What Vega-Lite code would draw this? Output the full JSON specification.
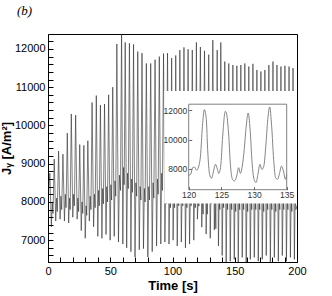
{
  "$schema": "https://vega.github.io/schema/vega-lite/v6.json",
  "width": 249,
  "height": 228,
  "autosize": {"type": "none"},
  "padding": {"left": 48, "top": 34, "right": 35, "bottom": 34},
  "background": "white",
  "config": {"view": {"stroke": "black", "strokeWidth": 1}, "font": "Liberation Sans"},
  "title": {"text": "(b)", "anchor": "start", "frame": "group", "font": "Liberation Serif", "fontStyle": "italic", "fontWeight": "normal", "fontSize": 13, "color": "black", "dx": -31, "offset": 16},
  "datasets": {
    "main": [
      {"t":0,"v":7900},{"t":0.7,"v":8350},{"t":1.5,"v":8750},{"t":2.7,"v":7350},{"t":3.4,"v":8000},{"t":4.0,"v":7700},
      {"t":5.0,"v":9120},{"t":6.2,"v":7500},{"t":6.9,"v":8100},{"t":7.5,"v":7750},
      {"t":8.5,"v":9330},{"t":9.7,"v":7550},{"t":10.4,"v":8150},{"t":11.0,"v":7800},
      {"t":12.0,"v":9250},{"t":13.2,"v":7500},{"t":13.9,"v":8200},{"t":14.5,"v":7850},
      {"t":15.5,"v":9800},{"t":16.6,"v":7450},{"t":17.3,"v":8100},{"t":17.8,"v":7800},
      {"t":18.7,"v":10300},{"t":19.9,"v":7600},{"t":20.6,"v":8200},{"t":21.2,"v":7900},
      {"t":22.2,"v":10270},{"t":23.4,"v":7550},{"t":24.0,"v":8100},{"t":24.6,"v":7750},
      {"t":25.5,"v":9500},{"t":26.7,"v":7250},{"t":27.3,"v":8000},{"t":27.9,"v":7700},
      {"t":28.8,"v":9480},{"t":29.9,"v":7050},{"t":30.6,"v":7900},{"t":31.1,"v":7650},
      {"t":32.0,"v":9600},{"t":33.2,"v":7500},{"t":33.9,"v":8150},{"t":34.5,"v":7800},
      {"t":35.4,"v":10600},{"t":36.6,"v":7350},{"t":37.3,"v":8200},{"t":37.9,"v":7850},
      {"t":38.8,"v":10780},{"t":40.0,"v":7100},{"t":40.6,"v":8300},{"t":41.2,"v":7900},
      {"t":42.1,"v":10530},{"t":43.3,"v":7050},{"t":43.9,"v":8350},{"t":44.5,"v":7950},
      {"t":45.4,"v":10560},{"t":46.6,"v":7150},{"t":47.2,"v":8400},{"t":47.8,"v":8000},
      {"t":48.7,"v":10800},{"t":49.9,"v":7000},{"t":50.5,"v":8450},{"t":51.1,"v":8050},
      {"t":52.0,"v":11000},{"t":53.2,"v":7100},{"t":53.8,"v":8550},{"t":54.4,"v":8150},
      {"t":55.3,"v":12130},{"t":56.6,"v":6950},{"t":57.4,"v":8700},{"t":58.2,"v":8300},
      {"t":59.1,"v":12500},{"t":60.1,"v":6900},{"t":60.7,"v":8900},{"t":61.2,"v":8450},
      {"t":62.0,"v":12170},{"t":63.2,"v":6800},{"t":63.9,"v":8750},{"t":64.5,"v":8350},
      {"t":65.4,"v":12150},{"t":66.6,"v":6700},{"t":67.2,"v":8600},{"t":67.8,"v":8250},
      {"t":68.7,"v":12120},{"t":69.9,"v":6560},{"t":70.6,"v":8500},{"t":71.2,"v":8150},
      {"t":72.1,"v":11930},{"t":73.3,"v":6750},{"t":74.0,"v":8400},{"t":74.6,"v":8050},
      {"t":75.5,"v":11890},{"t":76.7,"v":6780},{"t":77.4,"v":8350},{"t":78.0,"v":8000},
      {"t":79.0,"v":11620},{"t":80.2,"v":6560},{"t":80.9,"v":8400},{"t":81.5,"v":8050},
      {"t":82.5,"v":11620},{"t":83.7,"v":6700},{"t":84.4,"v":8500},{"t":85.0,"v":8100},
      {"t":86.0,"v":11720},{"t":87.2,"v":6850},{"t":87.9,"v":8600},{"t":88.5,"v":8200},
      {"t":89.4,"v":11800},{"t":90.6,"v":6900},{"t":91.3,"v":8750},{"t":91.9,"v":8300},
      {"t":92.8,"v":11880},{"t":93.9,"v":6950},{"t":94.5,"v":8300},{"t":95.1,"v":7950},
      {"t":96.0,"v":11890},{"t":97.2,"v":6900},{"t":97.8,"v":8200},{"t":98.4,"v":7850},
      {"t":99.3,"v":11760},{"t":100.5,"v":7000},{"t":101.1,"v":8200},{"t":101.7,"v":7850},
      {"t":102.6,"v":11830},{"t":103.8,"v":6850},{"t":104.4,"v":8250},{"t":105.0,"v":7900},
      {"t":105.9,"v":11970},{"t":107.1,"v":6950},{"t":107.7,"v":8250},{"t":108.3,"v":7900},
      {"t":109.2,"v":12040},{"t":110.4,"v":6800},{"t":111.0,"v":8200},{"t":111.6,"v":7850},
      {"t":112.5,"v":11990},{"t":113.7,"v":6900},{"t":114.4,"v":8250},{"t":115.0,"v":7900},
      {"t":115.9,"v":11970},{"t":117.1,"v":7000},{"t":117.7,"v":8200},{"t":118.3,"v":7850},
      {"t":119.2,"v":12170},{"t":120.0,"v":7550},{"t":120.7,"v":8100},{"t":121.2,"v":7890},
      {"t":122.4,"v":12050},{"t":123.5,"v":7340},{"t":124.1,"v":8300},{"t":124.6,"v":7680},
      {"t":125.7,"v":11950},{"t":127.0,"v":7160},{"t":127.65,"v":8070},{"t":127.9,"v":7680},
      {"t":129.1,"v":11850},{"t":130.3,"v":7050},{"t":130.9,"v":8300},{"t":131.2,"v":7950},
      {"t":132.4,"v":12230},{"t":133.6,"v":7270},{"t":134.2,"v":8180},{"t":134.8,"v":7300},
      {"t":135.9,"v":11970},{"t":136.9,"v":6850},{"t":137.5,"v":8150},{"t":138.0,"v":7800},
      {"t":138.8,"v":12170},{"t":139.9,"v":6600},{"t":140.5,"v":8200},{"t":141.1,"v":7850},
      {"t":142.0,"v":11670},{"t":143.1,"v":6400},{"t":143.7,"v":8150},{"t":144.3,"v":7800},
      {"t":145.2,"v":11620},{"t":146.4,"v":6450},{"t":147.0,"v":8150},{"t":147.6,"v":7800},
      {"t":148.5,"v":11580},{"t":149.6,"v":6500},{"t":150.2,"v":8100},{"t":150.8,"v":7750},
      {"t":151.7,"v":11560},{"t":152.8,"v":6400},{"t":153.4,"v":8150},{"t":154.0,"v":7800},
      {"t":154.9,"v":11580},{"t":156.0,"v":6550},{"t":156.6,"v":8150},{"t":157.2,"v":7800},
      {"t":158.1,"v":11620},{"t":159.2,"v":6400},{"t":159.8,"v":8100},{"t":160.4,"v":7750},
      {"t":161.3,"v":11540},{"t":162.5,"v":6500},{"t":163.1,"v":8150},{"t":163.7,"v":7800},
      {"t":164.6,"v":11610},{"t":165.7,"v":6550},{"t":166.3,"v":8100},{"t":166.9,"v":7800},
      {"t":167.8,"v":11450},{"t":168.9,"v":6450},{"t":169.5,"v":8150},{"t":170.1,"v":7800},
      {"t":171.0,"v":11410},{"t":172.1,"v":6500},{"t":172.7,"v":8100},{"t":173.3,"v":7750},
      {"t":174.2,"v":11450},{"t":175.3,"v":6600},{"t":175.9,"v":8150},{"t":176.5,"v":7800},
      {"t":177.4,"v":11580},{"t":178.6,"v":6400},{"t":179.2,"v":8150},{"t":179.8,"v":7800},
      {"t":180.7,"v":11670},{"t":181.8,"v":6550},{"t":182.4,"v":8100},{"t":183.0,"v":7750},
      {"t":183.9,"v":11580},{"t":185.0,"v":6450},{"t":185.6,"v":8150},{"t":186.2,"v":7800},
      {"t":187.1,"v":11540},{"t":188.2,"v":6600},{"t":188.8,"v":8100},{"t":189.4,"v":7800},
      {"t":190.3,"v":11560},{"t":191.5,"v":6450},{"t":192.1,"v":8150},{"t":192.7,"v":7800},
      {"t":193.6,"v":11540},{"t":194.7,"v":6550},{"t":195.3,"v":8100},{"t":195.9,"v":7750},
      {"t":196.8,"v":11500},{"t":197.9,"v":6500},{"t":198.5,"v":8150},{"t":199.1,"v":7800},{"t":200,"v":7900}
    ],
    "inset": [
      {"t":120,"v":7545},{"t":120.3,"v":7610},{"t":120.6,"v":8070},{"t":120.9,"v":8110},{"t":121.2,"v":7890},{"t":121.4,"v":8000},{"t":121.8,"v":8860},{"t":122.1,"v":10900},{"t":122.4,"v":12050},{"t":122.7,"v":11360},{"t":122.9,"v":9320},{"t":123.2,"v":7610},{"t":123.5,"v":7340},{"t":123.8,"v":7840},{"t":124.1,"v":8300},{"t":124.4,"v":7950},{"t":124.6,"v":7680},{"t":124.9,"v":8180},{"t":125.2,"v":10230},{"t":125.6,"v":11930},{"t":125.77,"v":11820},{"t":126.1,"v":10450},{"t":126.4,"v":8180},{"t":126.7,"v":7270},{"t":127.0,"v":7160},{"t":127.35,"v":7500},{"t":127.65,"v":8070},{"t":127.9,"v":7680},{"t":128.2,"v":8180},{"t":128.5,"v":9320},{"t":128.8,"v":10900},{"t":129.1,"v":11820},{"t":129.4,"v":10680},{"t":129.7,"v":8410},{"t":130.0,"v":7270},{"t":130.3,"v":7050},{"t":130.6,"v":7610},{"t":130.9,"v":8300},{"t":131.2,"v":7950},{"t":131.5,"v":8180},{"t":131.8,"v":9550},{"t":132.1,"v":11360},{"t":132.4,"v":12230},{"t":132.7,"v":10900},{"t":133.0,"v":8640},{"t":133.3,"v":7390},{"t":133.6,"v":7270},{"t":133.9,"v":7680},{"t":134.2,"v":8180},{"t":134.5,"v":7840},{"t":134.8,"v":7270},{"t":135.0,"v":7610}
    ],
    "cover": [{"x1": 93.4, "x2": 199.5, "y1": 7960, "y2": 10900}],
    "frame": [{"x1": 120, "x2": 135, "y1": 6560, "y2": 12420}]
  },
  "layer": [
    {
      "data": {"name": "main"},
      "mark": {"type": "line", "clip": true, "stroke": "#2a2a2a", "strokeWidth": 0.6},
      "encoding": {
        "x": {"field": "t", "type": "quantitative", "scale": {"domain": [0, 200], "nice": false},
          "axis": {"orient": "bottom", "title": "Time [s]", "values": [0,10,20,30,40,50,60,70,80,90,100,110,120,130,140,150,160,170,180,190,200],
            "labelExpr": "datum.value % 50 === 0 ? datum.label : ''", "labelFlush": false, "labelOverlap": false, "grid": false, "zindex": 1,
            "tickSize": -5, "labelPadding": 8, "domainColor": "black", "tickColor": "black", "labelColor": "black",
            "labelFont": "Liberation Sans", "labelFontSize": 11, "titleFont": "Liberation Sans", "titleFontSize": 13, "titleFontWeight": "bold", "titleColor": "black", "titlePadding": 3,
            "encode": {"ticks": {"update": {"y2": {"signal": "datum.value % 50 === 0 ? -5 : -2.5"}}}}}},
        "y": {"field": "v", "type": "quantitative", "scale": {"domain": [6430, 12390], "nice": false, "zero": false},
          "axis": {"orient": "left", "title": "Jᵧ [A/m²]", "format": "d", "values": [6600,6800,7000,7200,7400,7600,7800,8000,8200,8400,8600,8800,9000,9200,9400,9600,9800,10000,10200,10400,10600,10800,11000,11200,11400,11600,11800,12000,12200],
            "labelExpr": "datum.value % 1000 === 0 ? datum.label : ''", "labelFlush": false, "labelOverlap": false, "grid": false, "zindex": 1,
            "tickSize": -5, "labelPadding": 8, "domainColor": "black", "tickColor": "black", "labelColor": "black",
            "labelFont": "Liberation Sans", "labelFontSize": 11, "titleFont": "Liberation Sans", "titleFontSize": 13, "titleFontWeight": "bold", "titleColor": "black", "titlePadding": 1,
            "encode": {"ticks": {"update": {"x2": {"signal": "datum.value % 1000 === 0 ? 5 : 2.5"}}}}}}
      }
    },
    {
      "data": {"name": "cover"},
      "mark": {"type": "rect", "fill": "white", "stroke": null},
      "encoding": {
        "x": {"field": "x1", "type": "quantitative", "scale": {"domain": [0, 200], "nice": false}, "axis": null},
        "x2": {"field": "x2"},
        "y": {"field": "y1", "type": "quantitative", "scale": {"domain": [6430, 12390], "nice": false, "zero": false}, "axis": null},
        "y2": {"field": "y2"}
      }
    },
    {
      "data": {"name": "frame"},
      "mark": {"type": "rect", "fill": "white", "stroke": "#808080", "strokeWidth": 1},
      "encoding": {
        "x": {"field": "x1", "type": "quantitative", "scale": {"domain": [120, 135], "nice": false, "zero": false, "range": [140.7, 238.7]}, "axis": null},
        "x2": {"field": "x2"},
        "y": {"field": "y1", "type": "quantitative", "scale": {"domain": [6560, 12420], "nice": false, "zero": false, "range": [155.7, 70.2]}, "axis": null},
        "y2": {"field": "y2"}
      }
    },
    {
      "data": {"name": "inset"},
      "mark": {"type": "line", "stroke": "#777777", "strokeWidth": 0.9, "interpolate": "monotone"},
      "encoding": {
        "x": {"field": "t", "type": "quantitative", "scale": {"domain": [120, 135], "nice": false, "zero": false, "range": [140.7, 238.7]},
          "axis": {"orient": "bottom", "offset": -72.3, "title": null, "values": [120,125,130,135], "domain": false, "grid": false, "zindex": 2,
            "tickSize": -3, "labelPadding": 4, "tickColor": "#666666", "labelColor": "#333333", "labelFont": "Liberation Sans", "labelFontSize": 8.5, "labelFlush": false, "labelOverlap": false}},
        "y": {"field": "v", "type": "quantitative", "scale": {"domain": [6560, 12420], "nice": false, "zero": false, "range": [155.7, 70.2]},
          "axis": {"orient": "left", "offset": -140.7, "title": null, "values": [8000,10000,12000], "format": "d", "domain": false, "grid": false, "zindex": 2,
            "tickSize": -3, "labelPadding": 5, "tickColor": "#666666", "labelColor": "#333333", "labelFont": "Liberation Sans", "labelFontSize": 8.5, "labelFlush": false, "labelOverlap": false}}
      }
    }
  ],
  "resolve": {"scale": {"x": "independent", "y": "independent"}, "axis": {"x": "independent", "y": "independent"}}
}
